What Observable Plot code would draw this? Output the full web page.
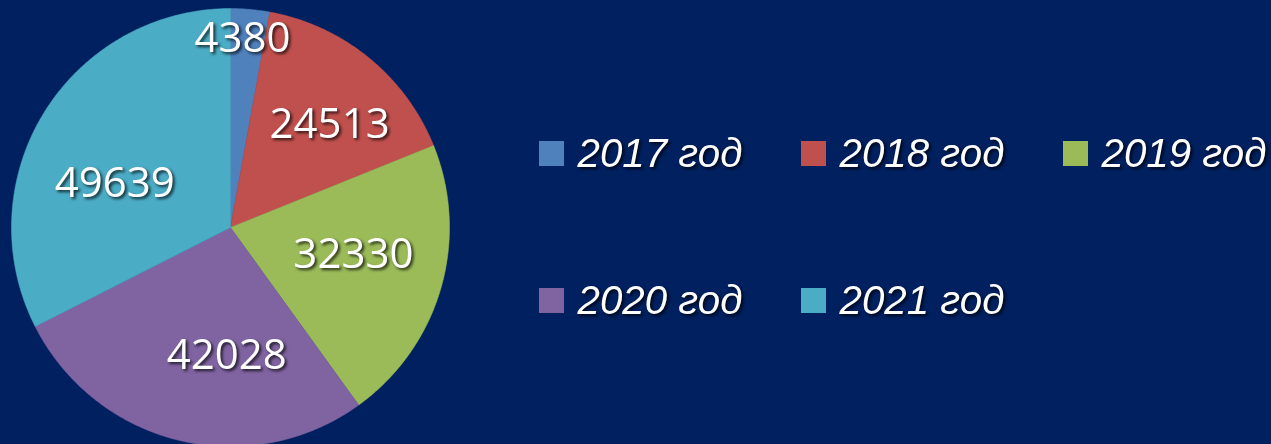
<!DOCTYPE html>
<html><head><meta charset="utf-8">
<script src="https://cdn.jsdelivr.net/npm/d3@7"></script>
<script src="https://cdn.jsdelivr.net/npm/@observablehq/plot@0.6"></script>
<style>
html,body{margin:0;padding:0;background:#002060;overflow:hidden}
.shadow{filter:drop-shadow(2px 2px 1.5px rgba(0,0,0,0.75))}
</style></head>
<body><div id="chart"></div>
<script>
const years = ["2017 год", "2018 год", "2019 год", "2020 год", "2021 год"];
const values = [4380, 24513, 32330, 42028, 49639];
const colors = ["#4F81BD", "#C0504D", "#9BBB59", "#8064A2", "#4BACC6"];

// styling / layout constants
const W = 1271, H = 444, CX = 230, CY = 227, R = 219;
const labelRadius = [189, 130, 130, 130, 130];
const labelNudge = [[-5,-1],[17,-2],[-2,-9],[27,2],[-5,24]];

const data = years.map((y, i) => ({year: y, value: values[i], i}));
const arcs = d3.pie().sort(null).value(d => d.value)(data);

const slicePts = [];
arcs.forEach(a => {
  slicePts.push({year: a.data.year, x: CX, y: CY});
  const n = Math.max(2, Math.ceil((a.endAngle - a.startAngle) / 0.01));
  for (let k = 0; k <= n; k++) {
    const t = a.startAngle + (a.endAngle - a.startAngle) * k / n;
    slicePts.push({year: a.data.year, x: CX + R * Math.sin(t), y: CY - R * Math.cos(t)});
  }
  slicePts.push({year: a.data.year, x: CX, y: CY});
});

const labels = arcs.map((a, i) => {
  const m = (a.startAngle + a.endAngle) / 2;
  return {
    text: String(a.data.value),
    x: CX + labelRadius[i] * Math.sin(m) + labelNudge[i][0],
    y: CY - labelRadius[i] * Math.cos(m) + labelNudge[i][1]
  };
});

const legend = data.map((d, i) => {
  const col = i % 3, row = Math.floor(i / 3);
  const x0 = 539 + col * 262, y0 = 141 + row * 147;
  return {year: d.year, x1: x0, x2: x0 + 25, y1: y0, y2: y0 + 25, tx: x0 + 38, ty: y0 + 25};
});

const chart = Plot.plot({
  width: W, height: H,
  margin: 0,
  x: {domain: [0, W], range: [0, W], axis: null},
  y: {domain: [0, H], range: [0, H], axis: null},
  color: {domain: years, range: colors},
  style: {background: "transparent"},
  marks: [
    Plot.line(slicePts, {x: "x", y: "y", z: "year", fill: "year", stroke: "year", strokeWidth: 0.5, curve: "linear"}),
    Plot.text(labels, {x: "x", y: "y", text: "text", fill: "white", fontSize: 42,
      fontFamily: "'Open Sans', 'Noto Sans', sans-serif", className: "shadow"}),
    Plot.rect(legend, {x1: "x1", x2: "x2", y1: "y1", y2: "y2", fill: "year"}),
    Plot.text(legend, {x: "tx", y: "ty", text: "year", fill: "white", textAnchor: "start", lineAnchor: "bottom",
      fontSize: 40, fontStyle: "italic", fontFamily: "'Liberation Sans', sans-serif", className: "shadow legend-text"})
  ]
});
chart.querySelectorAll(".legend-text text").forEach(t => {
  t.setAttribute("textLength", "165");
  t.setAttribute("lengthAdjust", "spacingAndGlyphs");
});
document.getElementById("chart").appendChild(chart);
</script></body></html>
